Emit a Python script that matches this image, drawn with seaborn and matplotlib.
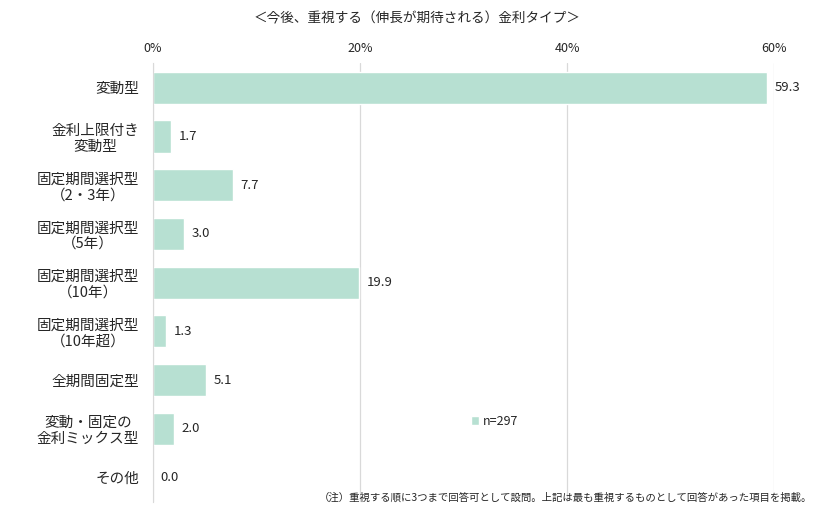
import numpy as np
import pandas as pd
import seaborn as sns
import matplotlib.pyplot as plt

sns.set_style('white')
plt.rcParams['font.family'] = ['Noto Sans CJK JP', 'DejaVu Sans']

# データ
categories = ['変動型', '金利上限付き\n変動型', '固定期間選択型\n（2・3年）', '固定期間選択型\n（5年）',
              '固定期間選択型\n（10年）', '固定期間選択型\n（10年超）', '全期間固定型',
              '変動・固定の\n金利ミックス型', 'その他']
values = [59.3, 1.7, 7.7, 3.0, 19.9, 1.3, 5.1, 2.0, 0.0]
xticks = [0, 20, 40, 60]
xticklabels = ['0%', '20%', '40%', '60%']
title = '＜今後、重視する（伸長が期待される）金利タイプ＞'
legend_label = 'n=297'
note = '（注）重視する順に3つまで回答可として設問。上記は最も重視するものとして回答があった項目を掲載。'

df = pd.DataFrame({'cat': categories, 'val': values})
bar_color = '#b7e0d2'

fig = plt.figure(figsize=(8.34, 5.12), dpi=100)
ax = fig.add_axes([0.1835, 0.02, 0.7446, 0.856])
sns.barplot(data=df, y='cat', x='val', color=bar_color, width=0.66, ax=ax,
            orient='h', label=legend_label, saturation=1)

ax.set_xlim(0, 60)
ax.set_ylim(len(categories) - 0.5, -0.5)
ax.xaxis.tick_top()
ax.set_xticks(xticks)
ax.set_xticklabels(xticklabels, fontsize=9)
ax.tick_params(axis='x', length=0, pad=6)
ax.set_xlabel('')
ax.set_ylabel('')
ax.grid(axis='x', color='#d9d9d9', linewidth=0.9)
ax.set_axisbelow(True)
for s in ['top', 'right', 'bottom']:
    ax.spines[s].set_visible(False)
ax.spines['left'].set_color('#d9d9d9')

# y軸ラベル（右揃え、複数行は中央揃え）
ax.set_yticks(range(len(categories)))
ax.set_yticklabels(categories, fontsize=10.5, ha='right', multialignment='center',
                   linespacing=1.15)
ax.tick_params(axis='y', length=0, pad=10)
# 区切りの小さい目盛り
ax.set_yticks(np.arange(-0.5, len(categories), 1), minor=True)
ax.tick_params(axis='y', which='minor', length=4, color='#d9d9d9', width=0.9)

# 値ラベル
for i, v in enumerate(values):
    ax.text(v + 0.75, i, f'{v:.1f}', va='center', ha='left', fontsize=9.5)

ax.legend(loc='center', bbox_to_anchor=(0.55, 0.183), frameon=False, fontsize=9,
          handlelength=0.6, handleheight=0.8, handletextpad=0.3)

fig.text(0.5, 0.965, title, ha='center', va='center', fontsize=9.8)
fig.text(0.974, 0.028, note, ha='right', va='center', fontsize=7.5)

plt.savefig('out.png', dpi=100)
